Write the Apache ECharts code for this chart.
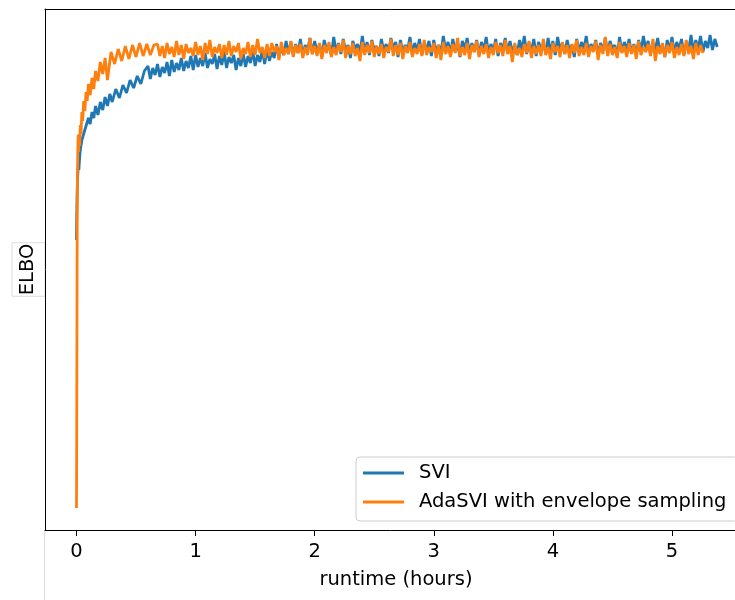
<!DOCTYPE html>
<html>
<head>
<meta charset="utf-8">
<script src="https://cdn.jsdelivr.net/npm/echarts@6/dist/echarts.min.js"></script>
<style>
  html, body { margin: 0; padding: 0; background: #fff; }
  #chart { width: 735px; height: 600px; }
</style>
</head>
<body>
<div id="chart"></div>
<script>
// runtime ticks (hours)
const xTicks = [0, 1, 2, 3, 4, 5]

// SVI: first minutes sampled densely, then every 0.02 h from 0.60 h
const sviEarlyTime = [0, 0.002, 0.005, 0.008, 0.012, 0.016, 0.02, 0.025, 0.03, 0.037,
  0.045, 0.055, 0.065, 0.075, 0.085, 0.1, 0.115, 0.13, 0.145, 0.16,
  0.18, 0.2, 0.22, 0.24, 0.26, 0.28, 0.3, 0.33, 0.36, 0.39,
  0.42, 0.45, 0.48, 0.51, 0.54, 0.57]
const sviEarlyElbo = [-240, -215, -195, -180, -172, -165, -170, -160, -152, -150,
  -140, -141, -132, -134, -124, -118, -124, -112, -118, -106,
  -115, -102, -110, -97, -106, -94, -102, -89, -98, -85,
  -93, -80, -88, -76, -84, -71]
const sviStart = 0.60
const sviStep = 0.02
const sviElbo = [
  -66, -79, -68, -75, -64, -77, -67, -73, -62, -76,
  -60, -72, -63, -70, -58, -71, -61, -68, -56, -70,
  -55, -67, -58, -66, -53, -68, -59, -64, -54, -69,
  -56, -65, -52, -68, -57, -63, -55, -70, -58, -66,
  -54, -67, -56, -63, -51, -66, -55, -62, -50, -64,
  -49, -61, -52, -58, -44, -57, -47, -55, -41, -54,
  -42, -55, -44, -53, -39, -56, -45, -51, -38, -54,
  -41, -53, -44, -57, -40, -50, -46, -55, -37, -52,
  -43, -54, -39, -51, -45, -58, -41, -49, -44, -53,
  -36, -52, -42, -55, -40, -50, -46, -56, -39, -51,
  -44, -53, -38, -49, -42, -57, -40, -52, -45, -50,
  -37, -54, -43, -51, -39, -55, -44, -49, -41, -56,
  -40, -52, -45, -53, -36, -50, -42, -54, -39, -51,
  -44, -57, -41, -49, -38, -53, -43, -52, -40, -55,
  -42, -50, -37, -54, -44, -51, -39, -56, -43, -49,
  -38, -53, -41, -52, -45, -55, -40, -50, -36, -54,
  -43, -51, -39, -56, -42, -49, -44, -53, -38, -52,
  -41, -55, -37, -50, -43, -54, -40, -51, -45, -57,
  -39, -52, -42, -49, -36, -53, -44, -50, -40, -55,
  -43, -51, -38, -54, -41, -49, -45, -56, -37, -52,
  -42, -50, -39, -53, -44, -55, -40, -51, -36, -49,
  -41, -54, -43, -50, -38, -52, -45, -57, -40, -51,
  -37, -53, -42, -49, -39, -55, -44, -50, -35, -52,
  -40, -49, -36, -52, -41, -48, -35, -50, -39, -47
]

// AdaSVI with envelope sampling: dense start, then every 0.02 h from 0.68 h
const adaEarlyTime = [0, 0.002, 0.004, 0.006, 0.008, 0.011, 0.014, 0.018, 0.022, 0.027,
  0.032, 0.038, 0.045, 0.052, 0.06, 0.07, 0.08, 0.09, 0.1, 0.115,
  0.13, 0.145, 0.16, 0.18, 0.2, 0.22, 0.24, 0.26, 0.29, 0.32,
  0.35, 0.38, 0.41, 0.44, 0.47, 0.5, 0.53, 0.56, 0.59, 0.62, 0.65]
const adaEarlyElbo = [-508, -430, -320, -220, -175, -150, -135, -152, -134, -146,
  -125, -134, -112, -121, -101, -111, -92, -101, -84, -95,
  -78, -89, -71, -81, -62, -74, -58, -80, -52, -64,
  -49, -61, -46, -59, -45, -57, -43, -56, -44, -55, -45]
const adaStart = 0.68
const adaStep = 0.02
const adaElbo = [
  -44, -56, -46, -58, -43, -54, -47, -57, -41, -55,
  -45, -59, -44, -53, -48, -56, -42, -55, -46, -60,
  -43, -54, -40, -57, -47, -53, -44, -58, -45, -55,
  -41, -56, -46, -52, -43, -59, -48, -54, -42, -57,
  -45, -55, -39, -53, -47, -58, -44, -56, -43, -52,
  -46, -60, -42, -55, -48, -54, -41, -57, -45, -53,
  -44, -58, -47, -55, -38, -54, -46, -56, -43, -59,
  -45, -53, -42, -57, -47, -55, -44, -52, -40, -58,
  -46, -54, -43, -56, -48, -61, -42, -55, -45, -53,
  -41, -57, -46, -54, -44, -58, -47, -52, -39, -56,
  -45, -55, -43, -59, -46, -53, -42, -57, -48, -54,
  -44, -56, -40, -55, -47, -52, -43, -58, -45, -60,
  -42, -54, -46, -57, -44, -53, -38, -56, -47, -55,
  -43, -59, -45, -52, -41, -57, -46, -54, -44, -58,
  -47, -55, -42, -53, -45, -56, -40, -54, -46, -62,
  -43, -55, -48, -57, -44, -53, -41, -58, -46, -54,
  -45, -56, -39, -55, -47, -59, -43, -52, -46, -57,
  -42, -54, -45, -58, -44, -53, -40, -56, -47, -55,
  -43, -57, -46, -52, -41, -60, -45, -54, -37, -56,
  -44, -55, -47, -58, -42, -53, -46, -57, -43, -54,
  -45, -59, -41, -55, -47, -52, -44, -56, -39, -61,
  -46, -54, -43, -57, -45, -53, -42, -58, -47, -55,
  -44, -56, -40, -54, -46, -59, -43, -55, -45, -53
]

function pairs (earlyT, earlyV, start, step, vals) {
  const out = earlyT.map((t, i) => [t, earlyV[i]])
  vals.forEach((v, i) => out.push([+(start + i * step).toFixed(3), v]))
  return out
}

const chart = echarts.init(document.getElementById('chart'))
const font = 'DejaVu Sans'
// the axes box runs past the right edge of the picture
const xMin = -0.2645
const xMax = 5.63
chart.setOption({
  animation: false,
  textStyle: { fontFamily: font },
  grid: { left: 45, top: 9, width: 702, bottom: 70, show: false, outerBoundsMode: 'none', containLabel: false },
  legend: {
    orient: 'vertical',
    left: 356, top: 457,
    padding: [5, 12, 8, 7],
    itemGap: 7,
    itemWidth: 41,
    itemHeight: 3,
    icon: 'rect',
    backgroundColor: 'rgba(255,255,255,0.8)',
    borderColor: '#cccccc',
    borderWidth: 1,
    borderRadius: 4,
    textStyle: { fontFamily: font, fontSize: 19.5, color: '#000', lineHeight: 22, padding: [0, 0, 0, 10] },
    data: ['SVI', 'AdaSVI with envelope sampling']
  },
  xAxis: [
    {
      type: 'value',
      min: xMin,
      max: xMax,
      name: 'runtime (hours)',
      nameLocation: 'middle',
      nameGap: 40,
      nameTextStyle: { fontFamily: font, fontSize: 19.5, color: '#000' },
      axisLine: { show: true, onZero: false, lineStyle: { color: '#000', width: 1 } },
      axisTick: { show: true, length: 6, customValues: xTicks, lineStyle: { color: '#000', width: 1 } },
      axisLabel: { customValues: xTicks, fontFamily: font, fontSize: 19.5, color: '#000', margin: 12 },
      splitLine: { show: false }
    },
    {
      // top spine only
      type: 'value',
      position: 'top',
      min: xMin,
      max: xMax,
      axisLine: { show: true, onZero: false, lineStyle: { color: '#000', width: 1 } },
      axisTick: { show: false },
      axisLabel: { show: false },
      splitLine: { show: false }
    }
  ],
  yAxis: {
    type: 'value',
    min: -530,
    max: -9,
    name: 'ELBO',
    nameLocation: 'middle',
    nameGap: 0,
    nameTextStyle: {
      fontFamily: font, fontSize: 19.5, color: '#000', lineHeight: 22,
      borderColor: '#dddddd', borderWidth: 1, padding: [5, 1, 6, 1]
    },
    axisLine: { show: true, onZero: false, lineStyle: { color: '#000', width: 1 } },
    axisTick: { show: false },
    axisLabel: { show: false },
    splitLine: { show: false }
  },
  graphic: [{
    type: 'line',
    shape: { x1: 44.5, y1: 531, x2: 44.5, y2: 600 },
    style: { stroke: '#dddddd', lineWidth: 1 }
  }],
  series: [
    {
      name: 'SVI',
      type: 'line',
      symbol: 'none',
      color: '#1f77b4',
      lineStyle: { color: '#1f77b4', width: 2.8 },
      data: pairs(sviEarlyTime, sviEarlyElbo, sviStart, sviStep, sviElbo)
    },
    {
      name: 'AdaSVI with envelope sampling',
      type: 'line',
      symbol: 'none',
      color: '#ff7f0e',
      lineStyle: { color: '#ff7f0e', width: 2.8 },
      data: pairs(adaEarlyTime, adaEarlyElbo, adaStart, adaStep, adaElbo)
    }
  ]
})
</script>
</body>
</html>
